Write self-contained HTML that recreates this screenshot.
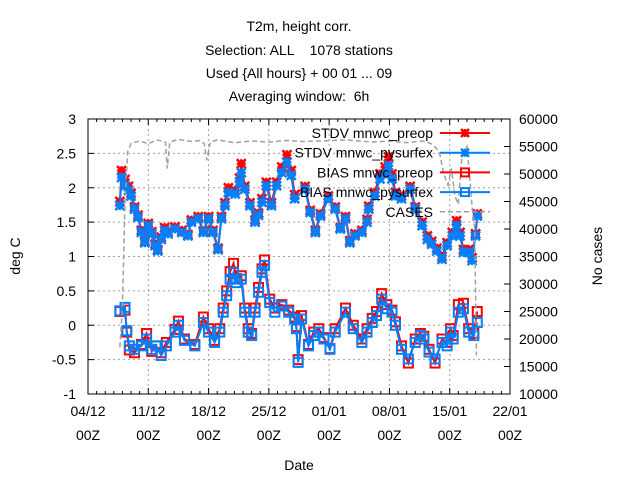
<!DOCTYPE html>
<html><head><meta charset="utf-8"><style>
html,body{margin:0;padding:0;background:#fff;}
svg{display:block;font-family:"Liberation Sans",sans-serif;}
</style></head><body>
<svg id="chart" width="640" height="480" viewBox="0 0 640 480" xmlns="http://www.w3.org/2000/svg">
<g font-size="14" text-anchor="middle" fill="#000">
<text x="299" y="31">T2m, height corr.</text>
<text x="299" y="55" xml:space="preserve">Selection: ALL    1078 stations</text>
<text x="299" y="78" xml:space="preserve">Used {All hours} + 00 01 ... 09</text>
<text x="299" y="101" xml:space="preserve">Averaging window:  6h</text>
</g>
<g id="grid"></g>
<g id="axes"></g>
<g id="series"></g>
<g id="legend"></g>
<text x="20" y="256" font-size="14" text-anchor="middle" transform="rotate(-90 20 256)">deg C</text>
<text x="602" y="256" font-size="14" text-anchor="middle" transform="rotate(-90 602 256)">No cases</text>
<text x="299" y="470" font-size="14" text-anchor="middle">Date</text>
</svg>
<script>
const xTickLabels=["04/12","11/12","18/12","25/12","01/01","08/01","15/01","22/01"];
const yTicks=[-1,-0.5,0,0.5,1,1.5,2,2.5,3];
const y2Ticks=[10000,15000,20000,25000,30000,35000,40000,45000,50000,55000,60000];
const stdvDays=[3.7,3.9,4.3,4.7,5.0,5.4,5.8,6.2,6.6,7.0,7.4,7.8,8.1,8.5,8.9,9.3,10.1,10.9,11.6,12.0,12.8,13.4,14.0,14.5,15.1,15.5,15.9,16.3,17.1,17.6,17.8,18.2,18.8,19.4,19.8,20.2,20.7,21.3,21.9,22.5,23.1,23.6,24.0,25.2,25.8,26.4,27.0,27.9,28.7,29.3,29.9,30.4,31.0,31.8,32.4,32.6,33.3,33.9,34.5,34.9,35.3,35.7,36.4,37.4,38.0,38.8,39.4,39.9,40.5,41.1,41.7,42.3,42.8,43.2,43.6,44.2,44.6,45.0,45.2];
const stdvPy=[1.74,2.15,2.03,1.96,1.88,1.69,1.57,1.35,1.2,1.45,1.33,1.16,1.08,1.25,1.38,1.33,1.4,1.35,1.3,1.5,1.55,1.35,1.55,1.35,1.1,1.55,1.74,1.93,1.91,2.08,2.22,1.98,1.74,1.5,1.6,1.79,2.03,1.74,2.03,2.22,2.37,2.18,1.84,1.98,1.64,1.35,1.59,1.84,1.69,1.4,1.55,1.2,1.3,1.35,1.5,1.69,1.88,2.13,2.2,2.32,2.13,1.88,1.84,1.98,1.69,1.45,1.25,1.18,1.08,0.96,1.16,1.3,1.45,1.3,1.06,1.06,0.94,1.3,1.59];
const stdvPre=[1.8,2.25,2.12,2.02,1.92,1.72,1.6,1.38,1.22,1.48,1.36,1.18,1.1,1.28,1.42,1.36,1.43,1.38,1.32,1.53,1.58,1.37,1.58,1.38,1.12,1.58,1.78,2.0,1.96,2.14,2.35,2.02,1.78,1.53,1.63,1.84,2.08,1.78,2.08,2.3,2.48,2.25,1.9,2.02,1.67,1.38,1.62,1.88,1.72,1.42,1.58,1.23,1.33,1.38,1.54,1.73,1.93,2.2,2.3,2.45,2.2,1.93,1.88,2.02,1.72,1.5,1.3,1.22,1.12,1.0,1.2,1.35,1.52,1.35,1.1,1.1,0.98,1.33,1.62];
const biasDays=[3.7,4.3,4.5,4.8,5.4,6.2,6.8,7.4,7.9,8.5,9.1,10.1,10.5,11.2,12.4,13.4,14.0,14.7,15.3,15.7,16.1,16.5,16.9,17.2,17.8,18.2,18.6,19.0,19.4,19.8,20.2,20.5,21.1,21.7,22.5,23.3,24.0,24.2,24.4,24.8,25.6,26.2,26.8,27.4,28.1,28.7,29.9,30.8,31.8,32.4,33.0,33.5,34.1,34.7,35.3,35.7,36.4,37.2,38.0,38.6,39.0,39.6,40.3,41.1,41.7,42.1,42.4,43.0,43.6,44.2,44.8,45.2];
const biasPy=[0.21,0.26,-0.08,-0.3,-0.35,-0.3,-0.2,-0.35,-0.3,-0.44,-0.3,-0.1,0.0,-0.22,-0.3,0.04,-0.1,-0.25,-0.1,0.19,0.43,0.67,0.77,0.62,0.67,0.19,-0.1,-0.15,0.19,0.48,0.77,0.87,0.33,0.19,0.28,0.19,0.09,-0.05,-0.54,0.09,-0.3,-0.15,-0.1,-0.2,-0.35,-0.1,0.19,-0.05,-0.25,-0.1,0.04,0.14,0.38,0.24,0.19,0.0,-0.35,-0.49,-0.25,-0.15,-0.2,-0.39,-0.49,-0.25,-0.3,-0.1,-0.2,0.19,0.24,-0.1,-0.15,0.04];
const biasPre=[0.2,0.22,-0.1,-0.36,-0.4,-0.28,-0.12,-0.38,-0.3,-0.4,-0.25,-0.06,0.06,-0.2,-0.28,0.12,-0.05,-0.22,-0.05,0.25,0.5,0.78,0.9,0.68,0.72,0.25,-0.05,-0.12,0.25,0.55,0.82,0.95,0.38,0.25,0.3,0.22,0.12,-0.02,-0.5,0.14,-0.28,-0.1,-0.05,-0.18,-0.34,-0.05,0.25,0.0,-0.2,-0.05,0.1,0.2,0.46,0.3,0.22,0.05,-0.3,-0.55,-0.2,-0.12,-0.16,-0.35,-0.55,-0.2,-0.25,-0.05,-0.15,0.3,0.32,-0.05,-0.12,0.2];
const caseDays=[3.7,4.0,4.3,4.6,5.0,6.0,7.0,8.0,9.0,9.2,9.5,10.5,12.0,13.0,13.5,13.8,14.2,15.0,17.0,19.0,21.0,23.0,25.0,27.0,30.0,33.0,35.0,37.0,39.0,40.0,40.8,41.3,41.8,42.2,42.6,43.0,43.4,44.0,44.4,44.6,44.9,45.1];
const caseVals=[18500,26000,45000,54000,55600,56000,55500,56200,55800,51000,55800,56300,55900,56100,55500,52500,55800,56200,55700,56000,55800,56100,55900,56000,56200,55800,56000,55700,56000,55400,54000,50000,48000,51000,46000,44500,53000,55000,48000,44000,40000,17000];

const L=88,R=510,T=119,B=394;
const xs=d=>L+d*(R-L)/49;
const ys=v=>T+(3-v)*(B-T)/4;
const y2s=v=>T+(60000-v)*(B-T)/50000;
const NS="http://www.w3.org/2000/svg";
function mk(tag,attrs,parent){const e=document.createElementNS(NS,tag);for(const k in attrs)e.setAttribute(k,attrs[k]);parent.appendChild(e);return e;}
const grid=document.getElementById('grid'),axes=document.getElementById('axes'),series=document.getElementById('series'),legend=document.getElementById('legend');

yTicks.forEach(v=>{const y=ys(v);
 if(v>-1&&v<3){const g=mk('line',{x1:L,x2:R,y1:y,y2:y,stroke:'#a0a0a0','stroke-dasharray':'2,3'},grid);}
 mk('line',{x1:L,x2:L+6,y1:y,y2:y,stroke:'#000'},axes);
 const t=mk('text',{x:L-12,y:y+5,'font-size':14,'text-anchor':'end'},axes);t.textContent=v;
 
 
});
y2Ticks.forEach(v=>{const y=y2s(v);
 mk('line',{x1:R-6,x2:R,y1:y,y2:y,stroke:'#000'},axes);
 const t=mk('text',{x:R+9,y:y+5,'font-size':14,'text-anchor':'start'},axes);t.textContent=v;
 
 
});
xTickLabels.forEach((lab,i)=>{const x=xs(i*7);
 if(i>0&&i<7){const g=mk('line',{x1:x,x2:x,y1:T,y2:B,stroke:'#a0a0a0','stroke-dasharray':'2,3'},grid);}
 mk('line',{x1:x,x2:x,y1:B,y2:B-6,stroke:'#000'},axes);
 mk('line',{x1:x,x2:x,y1:T,y2:T+6,stroke:'#000'},axes);
 const t=mk('text',{x:x,y:416,'font-size':14,'text-anchor':'middle'},axes);t.textContent=lab;
 
 
 const t2=mk('text',{x:x,y:440,'font-size':14,'text-anchor':'middle'},axes);t2.textContent='00Z';
 
 
});
for(let d=0;d<=49;d++){if(d%7){const x=xs(d);mk('line',{x1:x,x2:x,y1:B,y2:B-3,stroke:'#000'},axes);mk('line',{x1:x,x2:x,y1:T,y2:T+3,stroke:'#000'},axes);}}
const frame=mk('rect',{x:L,y:T,width:R-L,height:B-T,fill:'none',stroke:'#000'},axes);



function star(g,x,y,c,s){mk('path',{d:`M${x-s} ${y}H${x+s}M${x} ${y-s}V${y+s}M${x-s} ${y-s}L${x+s} ${y+s}M${x-s} ${y+s}L${x+s} ${y-s}`,stroke:c,'stroke-width':2.5,fill:'none'},g);}
function sq(g,x,y,c,s){mk('rect',{x:x-s,y:y-s,width:2*s,height:2*s,stroke:c,'stroke-width':2,fill:'none'},g);}
function drawSeries(name,days,vals,c,marker){
 const g=mk('g',{},series);
 
 
 mk('polyline',{points:days.map((d,i)=>xs(d)+','+ys(vals[i])).join(' '),stroke:c,'stroke-width':2,fill:'none'},g);
 days.forEach((d,i)=>marker(g,xs(d),ys(vals[i]),c,4.5));
}
drawSeries('stdv-preop-series',stdvDays,stdvPre,'#ff0000',star);
drawSeries('stdv-pysurfex-series',stdvDays,stdvPy,'#0080ff',star);
drawSeries('bias-preop-series',biasDays,biasPre,'#ff0000',sq);
drawSeries('bias-pysurfex-series',biasDays,biasPy,'#0080ff',sq);
const cg=mk('g',{},series);


mk('polyline',{points:caseDays.map((d,i)=>xs(d)+','+y2s(caseVals[i])).join(' '),stroke:'#a0a0a0','stroke-width':1.5,'stroke-dasharray':'5,3',fill:'none'},cg);

const leg=[["STDV mnwc_preop","#ff0000",star],["STDV mnwc_pysurfex","#0080ff",star],["BIAS mnwc_preop","#ff0000",sq],["BIAS mnwc_pysurfex","#0080ff",sq],["CASES","#a0a0a0",null]];
leg.forEach((e,i)=>{const y=133+i*19.7;
 const g=mk('g',{},legend);
 
 
 const t=mk('text',{x:433,y:y+5,'font-size':14,'text-anchor':'end'},g);t.textContent=e[0];
 if(e[2]){mk('line',{x1:440,x2:490,y1:y,y2:y,stroke:e[1],'stroke-width':2},g);e[2](g,465,y,e[1],4);}
 else mk('line',{x1:440,x2:490,y1:y,y2:y,stroke:e[1],'stroke-width':1.5,'stroke-dasharray':'5,3'},g);
});
</script>
</body></html>
